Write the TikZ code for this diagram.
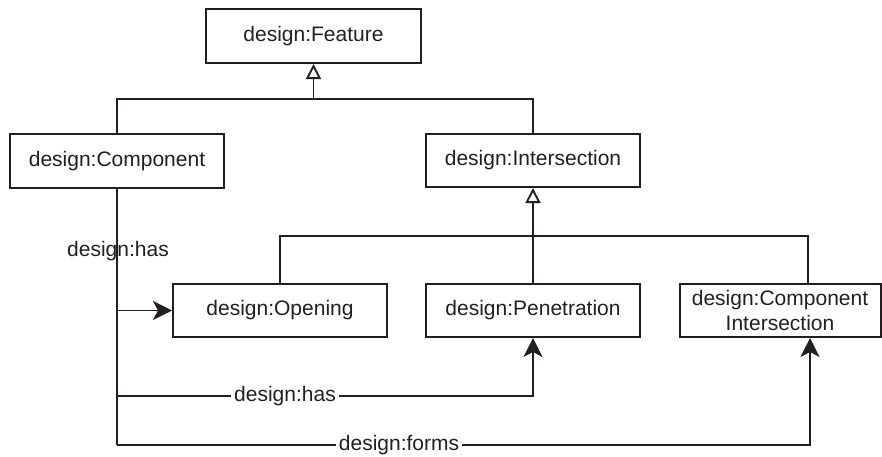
\documentclass[tikz,border=0pt]{standalone}
\usepackage{fontspec}
\setmainfont{Liberation Sans}
\usetikzlibrary{arrows.meta}
\definecolor{ink}{HTML}{231F20}
\tikzset{
  classbox/.style={draw=ink, line width=2pt, minimum width=214pt, minimum height=53pt,
    inner sep=0pt, font=\fontsize{21}{25}\selectfont, text=ink, align=center},
  wire/.style={draw=ink, line width=1.8pt},
  gen/.style={wire, -{Triangle[open, length=15pt, width=15pt, line width=1.9pt]}},
  assoc/.style={wire, -{Stealth[length=19pt, width=19pt, inset=5pt]}},
  lbl/.style={font=\fontsize{21}{25}\selectfont, text=ink, inner sep=0pt},
  lblcut/.style={lbl, fill=white, inner xsep=3pt, inner ysep=2pt}
}
\begin{document}
\begin{tikzpicture}[x=1pt, y=-1pt]
\useasboundingbox (0,0) rectangle (882,456);

% classes
\node[classbox, minimum width=215pt, minimum height=54pt] (feat) at (313.5,36) {design:Feature};
\node[classbox, minimum height=54pt] (comp) at (117,161) {design:Component};
\node[classbox] (inter) at (533,160.5) {design:Intersection};
\node[classbox] (open) at (280,310.5) {design:Opening};
\node[classbox] (pen) at (533,310.5) {design:Penetration};
\node[classbox, minimum width=201pt] (cint) at (780,310.5) {design:Component\\Intersection};

% junction points of the generalisation trees
\coordinate (j1) at (313.5,99);
\coordinate (j2) at (533,236);

% generalisation: Component, Intersection -> Feature
\draw[wire] (comp.north) |- (j1) -| (inter.north);
\draw[gen] (j1) -- (feat.south);

% generalisation: Opening, Penetration, Component Intersection -> Intersection
\draw[wire] (open.north) |- (j2) -| ([xshift=28pt]cint.north);
\draw[gen] (pen.north) -- (inter.south);

% associations from Component
\coordinate (hasy) at (533,396);
\coordinate (formsy) at (810,445);
\draw[wire] (comp.south) -- (comp.south |- formsy);
\draw[assoc] (comp.south |- open.west) -- (open.west);
\draw[assoc] (comp.south |- hasy) -- (hasy) -- (pen.south);
\draw[assoc] (comp.south |- formsy) -- (formsy) -- ([xshift=30pt]cint.south);

% association labels
\node[lbl] (lhas1) at (118,251) {design:has};
\node[lblcut] (lhas2) at (285,396) {design:has};
\node[lblcut] (lforms) at (399,445) {design:forms};
\end{tikzpicture}
\end{document}
